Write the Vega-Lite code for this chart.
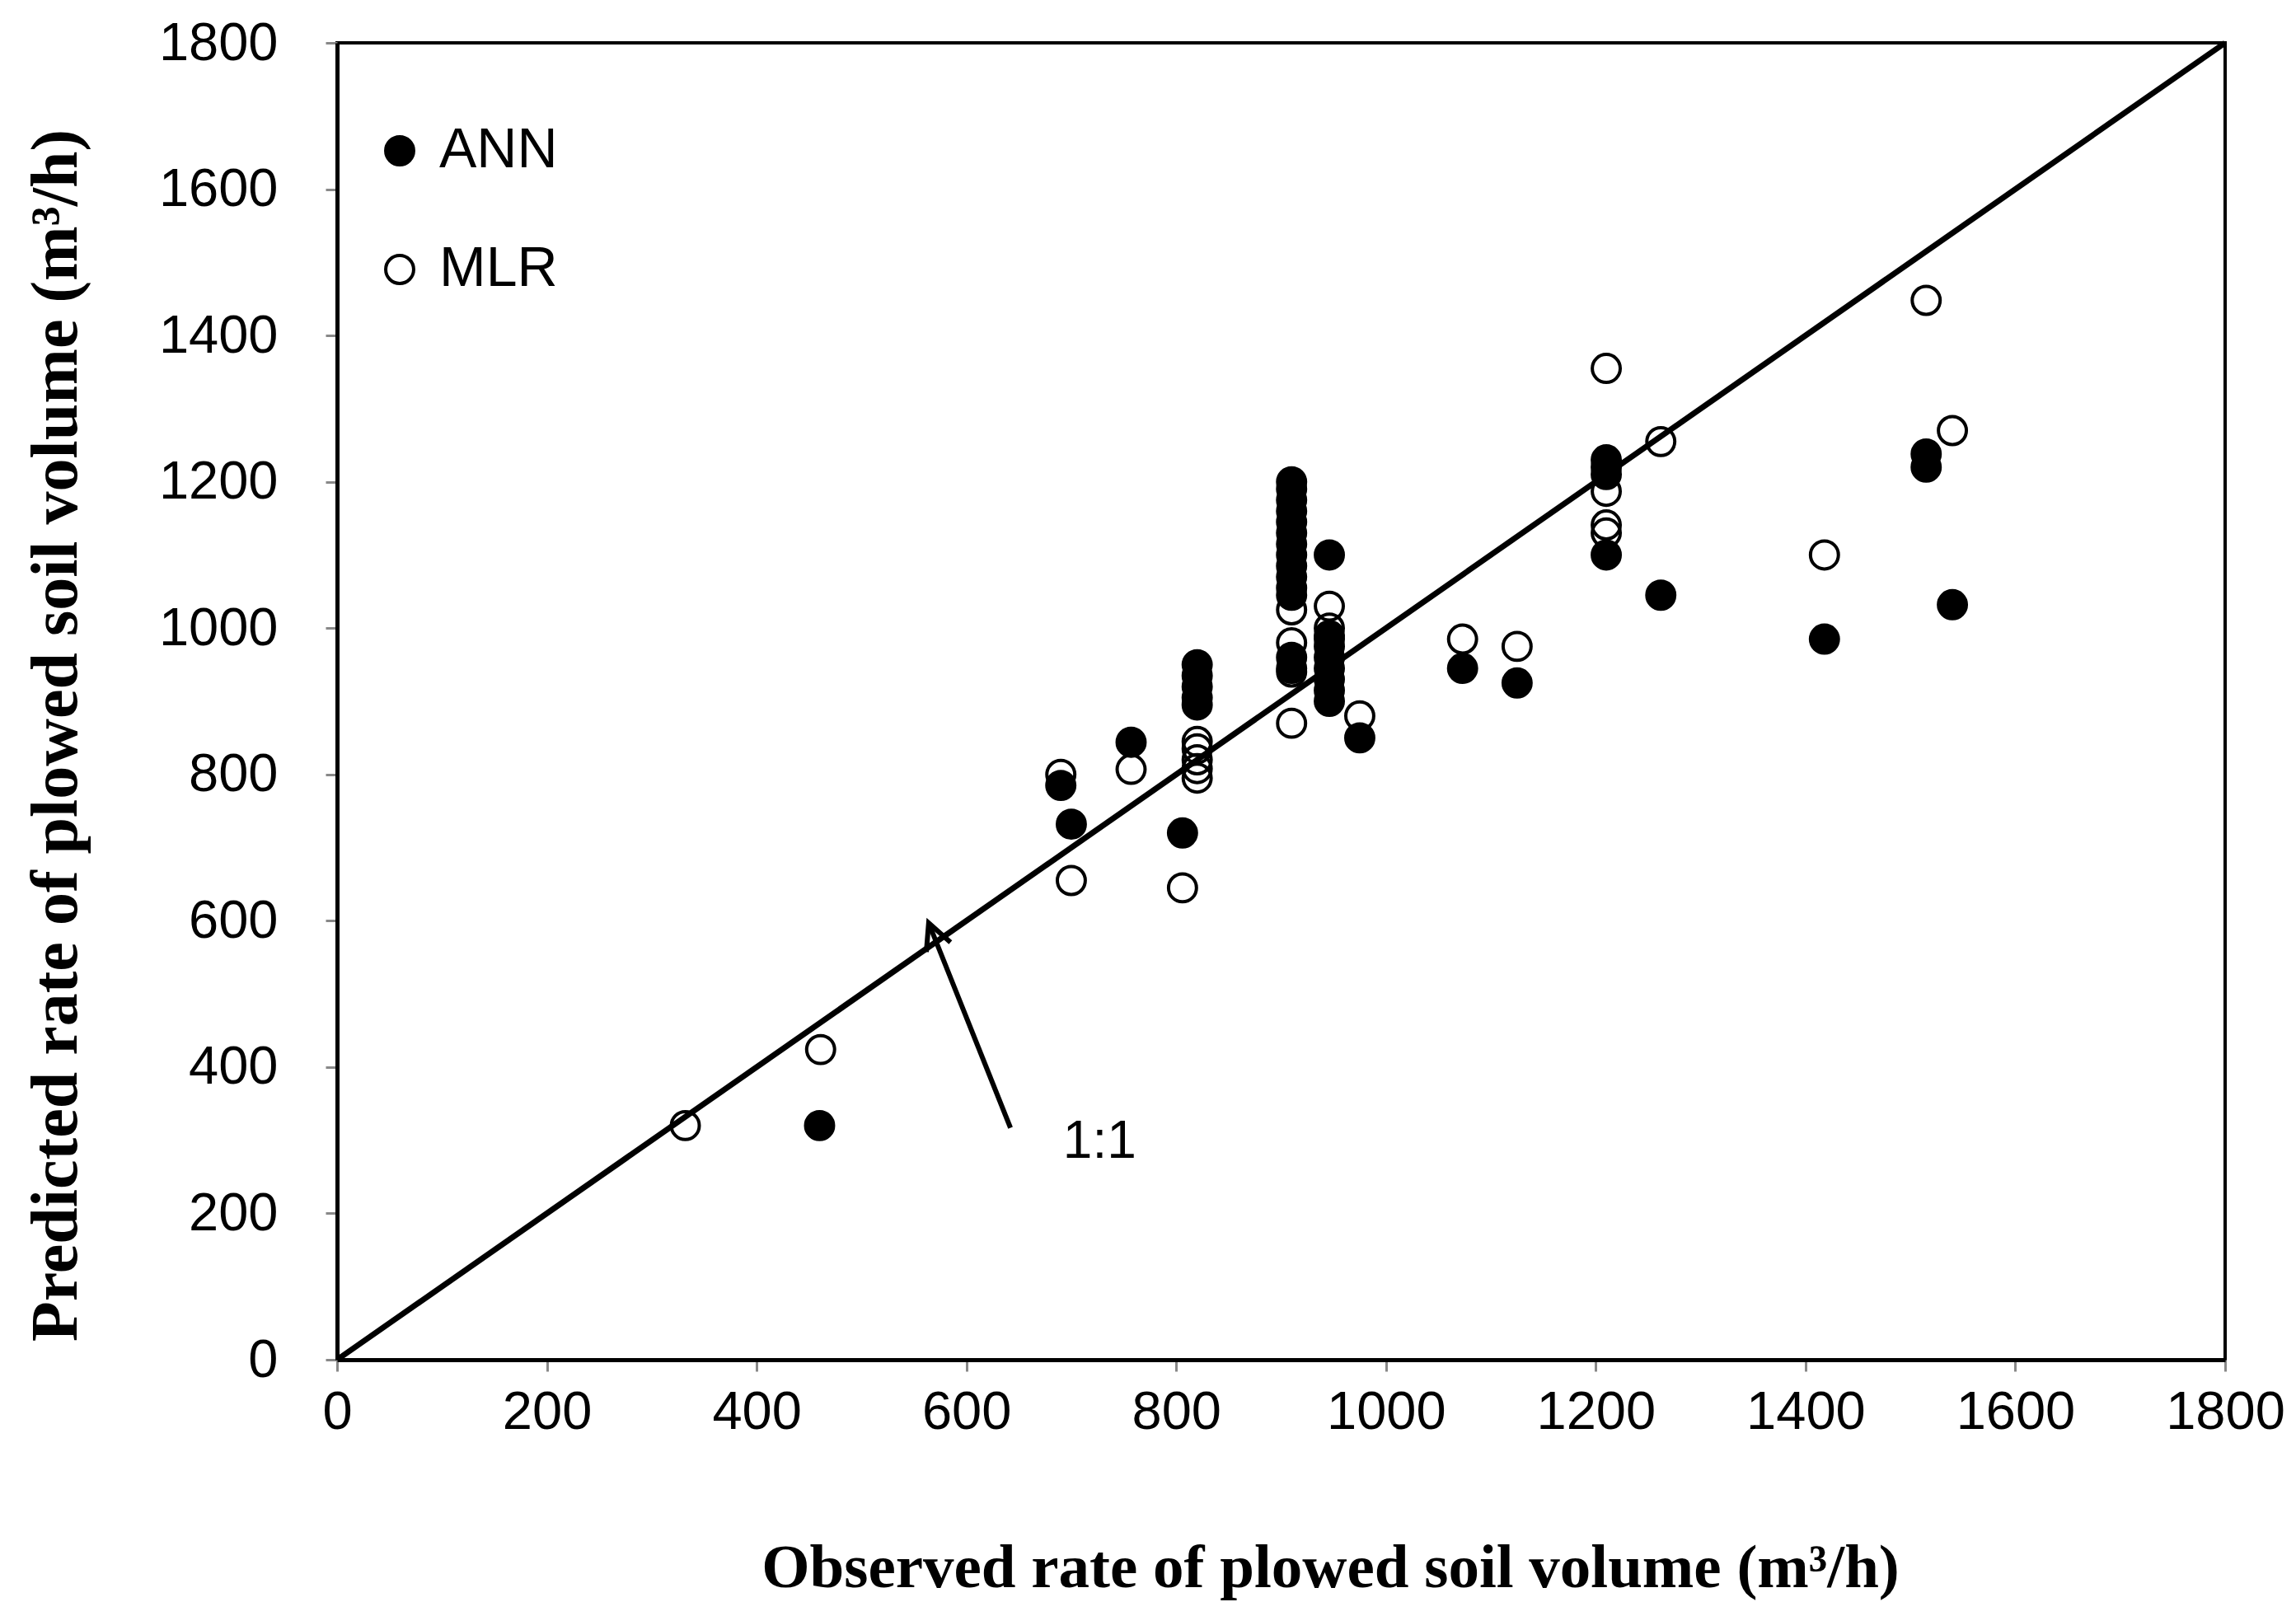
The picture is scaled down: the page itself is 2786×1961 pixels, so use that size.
{
  "$schema": "https://vega.github.io/schema/vega-lite/v6.json",
  "width": 2291,
  "height": 1598,
  "autosize": {"type": "none"},
  "padding": {"left": 409, "top": 52, "right": 86, "bottom": 311},
  "background": "white",
  "config": {
    "view": {"stroke": "black", "strokeWidth": 4},
    "axis": {
      "grid": false,
      "domainColor": "black",
      "domainWidth": 5,
      "tickColor": "#888888",
      "tickWidth": 3,
      "tickSize": 14,
      "labelFont": "Liberation Sans",
      "labelFontSize": 65,
      "labelColor": "black",
      "labelFlush": false,
      "format": "d",
      "titleFont": "Liberation Serif",
      "titleFontWeight": "bold",
      "titleColor": "black"
    }
  },
  "datasets": {
    "diag": [{"x": 0, "y": 0, "x2": 1800, "y2": 1800}],
    "arrow": [{"x": 642, "y": 317, "x2": 564, "y2": 597}],
    "tip": [{"x": 564, "y": 597}],
    "note": [{"x": 727, "y": 297, "label": "1:1"}],
    "pts": [
      {"x": 460, "y": 320, "model": "ANN"},
      {"x": 690, "y": 785, "model": "ANN"},
      {"x": 700, "y": 732, "model": "ANN"},
      {"x": 757, "y": 844, "model": "ANN"},
      {"x": 806, "y": 720, "model": "ANN"},
      {"x": 820, "y": 950, "model": "ANN"},
      {"x": 820, "y": 935, "model": "ANN"},
      {"x": 820, "y": 920, "model": "ANN"},
      {"x": 820, "y": 905, "model": "ANN"},
      {"x": 820, "y": 895, "model": "ANN"},
      {"x": 910, "y": 1200, "model": "ANN"},
      {"x": 910, "y": 1190, "model": "ANN"},
      {"x": 910, "y": 1175, "model": "ANN"},
      {"x": 910, "y": 1160, "model": "ANN"},
      {"x": 910, "y": 1145, "model": "ANN"},
      {"x": 910, "y": 1130, "model": "ANN"},
      {"x": 910, "y": 1115, "model": "ANN"},
      {"x": 910, "y": 1100, "model": "ANN"},
      {"x": 910, "y": 1085, "model": "ANN"},
      {"x": 910, "y": 1070, "model": "ANN"},
      {"x": 910, "y": 1055, "model": "ANN"},
      {"x": 910, "y": 1045, "model": "ANN"},
      {"x": 910, "y": 960, "model": "ANN"},
      {"x": 910, "y": 945, "model": "ANN"},
      {"x": 946, "y": 1100, "model": "ANN"},
      {"x": 946, "y": 990, "model": "ANN"},
      {"x": 946, "y": 975, "model": "ANN"},
      {"x": 946, "y": 960, "model": "ANN"},
      {"x": 946, "y": 945, "model": "ANN"},
      {"x": 946, "y": 930, "model": "ANN"},
      {"x": 946, "y": 915, "model": "ANN"},
      {"x": 946, "y": 900, "model": "ANN"},
      {"x": 975, "y": 850, "model": "ANN"},
      {"x": 1073, "y": 945, "model": "ANN"},
      {"x": 1125, "y": 925, "model": "ANN"},
      {"x": 1210, "y": 1230, "model": "ANN"},
      {"x": 1210, "y": 1220, "model": "ANN"},
      {"x": 1210, "y": 1210, "model": "ANN"},
      {"x": 1210, "y": 1100, "model": "ANN"},
      {"x": 1262, "y": 1045, "model": "ANN"},
      {"x": 1418, "y": 985, "model": "ANN"},
      {"x": 1515, "y": 1238, "model": "ANN"},
      {"x": 1515, "y": 1220, "model": "ANN"},
      {"x": 1540, "y": 1032, "model": "ANN"},
      {"x": 332, "y": 320, "model": "MLR"},
      {"x": 461, "y": 424, "model": "MLR"},
      {"x": 690, "y": 800, "model": "MLR"},
      {"x": 700, "y": 655, "model": "MLR"},
      {"x": 757, "y": 807, "model": "MLR"},
      {"x": 806, "y": 645, "model": "MLR"},
      {"x": 820, "y": 845, "model": "MLR"},
      {"x": 820, "y": 835, "model": "MLR"},
      {"x": 820, "y": 820, "model": "MLR"},
      {"x": 820, "y": 808, "model": "MLR"},
      {"x": 820, "y": 795, "model": "MLR"},
      {"x": 910, "y": 1025, "model": "MLR"},
      {"x": 910, "y": 980, "model": "MLR"},
      {"x": 910, "y": 940, "model": "MLR"},
      {"x": 910, "y": 870, "model": "MLR"},
      {"x": 946, "y": 1030, "model": "MLR"},
      {"x": 946, "y": 1000, "model": "MLR"},
      {"x": 946, "y": 985, "model": "MLR"},
      {"x": 975, "y": 880, "model": "MLR"},
      {"x": 1073, "y": 985, "model": "MLR"},
      {"x": 1125, "y": 975, "model": "MLR"},
      {"x": 1210, "y": 1355, "model": "MLR"},
      {"x": 1210, "y": 1187, "model": "MLR"},
      {"x": 1210, "y": 1141, "model": "MLR"},
      {"x": 1210, "y": 1130, "model": "MLR"},
      {"x": 1262, "y": 1255, "model": "MLR"},
      {"x": 1418, "y": 1100, "model": "MLR"},
      {"x": 1515, "y": 1448, "model": "MLR"},
      {"x": 1540, "y": 1270, "model": "MLR"}
    ]
  },
  "encoding": {
    "x": {
      "field": "x",
      "type": "quantitative",
      "scale": {"domain": [0, 1800], "nice": false, "zero": true},
      "axis": {
        "values": [0, 200, 400, 600, 800, 1000, 1200, 1400, 1600, 1800],
        "title": "Observed rate of plowed  soil volume (m³/h)",
        "titleFontSize": 75,
        "labelPadding": 18,
        "titlePadding": 120,
        "titleX": 1205
      }
    },
    "y": {
      "field": "y",
      "type": "quantitative",
      "scale": {"domain": [0, 1800], "nice": false, "zero": true},
      "axis": {
        "values": [0, 200, 400, 600, 800, 1000, 1200, 1400, 1600, 1800],
        "title": "Predicted rate of plowed  soil volume  (m³/h)",
        "titleFontSize": 80,
        "labelPadding": 58,
        "titlePadding": 100,
        "titleY": 840
      }
    }
  },
  "layer": [
    {
      "data": {"name": "diag"},
      "mark": {"type": "rule", "stroke": "black", "strokeWidth": 7},
      "encoding": {"x2": {"field": "x2"}, "y2": {"field": "y2"}}
    },
    {
      "data": {"name": "pts"},
      "mark": {"type": "point", "shape": "circle", "filled": true, "stroke": "black", "strokeWidth": 4, "size": 1150, "opacity": 1},
      "encoding": {
        "fill": {
          "field": "model",
          "type": "nominal",
          "scale": {"domain": ["ANN", "MLR"], "range": ["black", "transparent"]},
          "legend": {
            "orient": "none",
            "legendX": 42,
            "legendY": 97,
            "title": null,
            "labelFont": "Liberation Sans",
            "labelFontSize": 68,
            "labelColor": "black",
            "symbolSize": 1150,
            "symbolType": "circle",
            "symbolStrokeColor": "black",
            "symbolStrokeWidth": 4,
            "rowPadding": 76,
            "labelOffset": 14
          }
        }
      }
    },
    {
      "data": {"name": "arrow"},
      "mark": {"type": "rule", "stroke": "black", "strokeWidth": 6},
      "encoding": {"x2": {"field": "x2"}, "y2": {"field": "y2"}}
    },
    {
      "data": {"name": "tip"},
      "mark": {"type": "point", "shape": "M -0.5 1 L 0 0 L 0.5 1", "filled": false, "stroke": "black", "strokeWidth": 6, "size": 4000, "angle": 338, "opacity": 1},
      "encoding": {}
    },
    {
      "data": {"name": "note"},
      "mark": {"type": "text", "font": "Liberation Sans", "fontSize": 64, "color": "black", "align": "center", "baseline": "middle"},
      "encoding": {"text": {"field": "label"}}
    }
  ]
}
